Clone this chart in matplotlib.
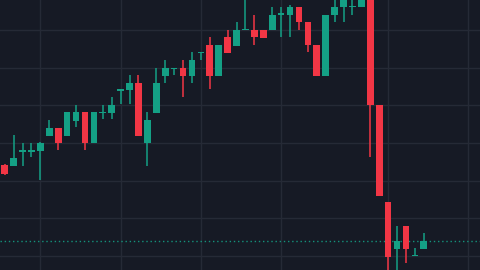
import matplotlib
matplotlib.use("Agg")
import matplotlib.pyplot as plt
import numpy as np

opens  = [94.2, 93.9, 97.6, 97.6, 97.9, 101.9, 104.0, 101.9, 105.8, 108.2,
          100.0, 108.0, 108.0, 113.8, 114.1, 115.9, 100.0, 108.0, 117.8, 119.6,
          119.9, 117.8, 123.9, 126.0, 117.8, 128.1, 125.7, 130.0, 130.0, 130.0,
          130.0, 134.0, 134.0, 136.1, 132.1, 126.0, 117.8, 134.0, 136.1, 136.1,
          136.1, 138.5, 110.1, 84.3, 71.9, 78.0, 70.0, 71.9]
highs  = [94.4, 102.1, 100.0, 100.0, 100.2, 106.1, 104.0, 108.2, 110.1, 108.2,
          108.2, 110.1, 112.2, 114.3, 118.0, 118.0, 108.2, 119.9, 122.0, 119.9,
          122.0, 124.1, 124.1, 128.1, 126.0, 130.0, 132.1, 139.0, 134.0, 130.0,
          136.1, 136.1, 136.6, 136.1, 132.1, 126.0, 134.0, 138.5, 139.0, 139.0,
          139.0, 139.0, 110.1, 84.3, 78.0, 78.0, 72.1, 76.1]
lows   = [91.6, 93.9, 93.9, 96.3, 90.2, 101.9, 98.1, 101.9, 104.2, 98.1,
          100.0, 106.4, 106.4, 110.3, 110.3, 101.9, 93.9, 108.0, 115.9, 118.0,
          112.2, 115.9, 122.0, 114.3, 117.8, 123.9, 125.7, 130.0, 126.0, 127.9,
          130.0, 128.1, 128.1, 130.0, 124.1, 117.8, 117.8, 132.1, 132.1, 134.0,
          136.1, 96.3, 85.9, 64.0, 64.0, 68.2, 70.0, 71.9]
closes = [91.8, 96.0, 98.1, 98.1, 100.0, 104.0, 100.0, 108.2, 108.2, 100.0,
          108.2, 108.2, 110.1, 114.3, 115.9, 101.9, 106.1, 115.9, 119.9, 119.9,
          117.8, 122.0, 124.1, 117.8, 126.0, 123.9, 130.0, 130.2, 128.1, 127.9,
          134.0, 134.2, 136.1, 132.1, 126.0, 117.8, 134.0, 136.1, 138.5, 136.3,
          138.5, 110.1, 85.9, 69.8, 74.0, 71.9, 70.2, 74.0]
grid_x = [4, 13, 22, 31, 43, 52]
grid_y = [70, 80, 90, 100, 110, 120, 130]

BG = "#161a25"
GREEN = "#14a085"
RED = "#f23645"
GRID = "#252a36"

o = np.array(opens); h = np.array(highs); l = np.array(lows); c = np.array(closes)
x = np.arange(len(o))
up = c >= o
colors = np.where(up, GREEN, RED)

fig = plt.figure(figsize=(4.8, 2.7), dpi=100, facecolor=BG)
ax = fig.add_axes([0, 0, 1, 1], facecolor=BG)

for gx in grid_x:
    ax.axvline(gx, color=GRID, lw=1.0, zorder=0)
for gy in grid_y:
    ax.axhline(gy, color=GRID, lw=1.0, zorder=0)

ax.vlines(x, l, h, colors=colors, lw=1.1, zorder=2)
bottoms = np.minimum(o, c)
heights = np.maximum(np.abs(c - o), 0.35)
ax.bar(x, heights, bottom=bottoms, width=0.75, color=colors, edgecolor=colors,
       lw=0, zorder=3)

ax.axhline(c[-1], color=GREEN, lw=1.0, ls=(0, (1, 2)), zorder=1, alpha=0.9)

ax.set_xlim(-0.53, 53.3)
ax.set_ylim(66.31, 137.93)
ax.axis("off")

fig.savefig("out.png", dpi=100, facecolor=BG)
